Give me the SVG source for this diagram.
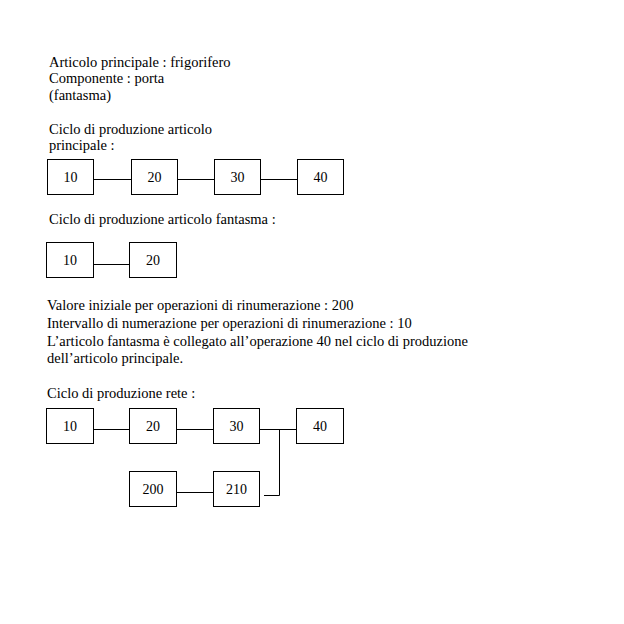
<svg xmlns="http://www.w3.org/2000/svg" width="624" height="624" viewBox="0 0 624 624">
<style>
text{font-family:"Liberation Serif","Times New Roman",serif;font-size:14.5px;fill:#000}
.n rect{fill:#fff;stroke:#000;stroke-width:1}
.n text{text-anchor:middle;font-size:14px}
#connectors line,#connectors polyline{stroke:#000;stroke-width:1;fill:none}
</style>
<rect width="624" height="624" fill="#fff"/>
<g id="texts">
<text x="49" y="66.5">Articolo principale : frigorifero</text>
<text x="49" y="83">Componente : porta</text>
<text x="49" y="99.5">(fantasma)</text>
<text x="49" y="134">Ciclo di produzione articolo</text>
<text x="49" y="150">principale :</text>
<text x="49" y="224">Ciclo di produzione articolo fantasma :</text>
<text x="47" y="310">Valore iniziale per operazioni di rinumerazione : 200</text>
<text x="47" y="328">Intervallo di numerazione per operazioni di rinumerazione : 10</text>
<text x="47" y="345.5">L’articolo fantasma è collegato all’operazione 40 nel ciclo di produzione</text>
<text x="47" y="363">dell’articolo principale.</text>
<text x="47" y="397.5">Ciclo di produzione rete :</text>
</g>
<g id="connectors">
<line x1="94" y1="179.5" x2="131.5" y2="179.5"/>
<line x1="177" y1="179.5" x2="214.5" y2="179.5"/>
<line x1="261" y1="179.5" x2="297" y2="179.5"/>
<line x1="94" y1="264.5" x2="129.5" y2="264.5"/>
<line x1="94" y1="429.5" x2="129.5" y2="429.5"/>
<line x1="177" y1="429.5" x2="213.5" y2="429.5"/>
<line x1="260" y1="429.5" x2="297" y2="429.5"/>
<line x1="177" y1="492.5" x2="213.5" y2="492.5"/>
<polyline points="264,495.5 279.5,495.5 279.5,429.5"/>
</g>
<g id="p10" class="n"><rect x="47.5" y="159.5" width="46" height="35"/><text x="70.5" y="182">10</text></g>
<g id="p20" class="n"><rect x="131.5" y="159.5" width="46" height="35"/><text x="154.5" y="182">20</text></g>
<g id="p30" class="n"><rect x="214.5" y="159.5" width="46" height="35"/><text x="237.5" y="182">30</text></g>
<g id="p40" class="n"><rect x="297.5" y="159.5" width="46" height="35"/><text x="320.5" y="182">40</text></g>
<g id="f10" class="n"><rect x="46.5" y="242.5" width="47" height="35"/><text x="70" y="265">10</text></g>
<g id="f20" class="n"><rect x="129.5" y="242.5" width="47" height="35"/><text x="153" y="265">20</text></g>
<g id="r10" class="n"><rect x="46.5" y="408.5" width="47" height="35"/><text x="70" y="431">10</text></g>
<g id="r20" class="n"><rect x="129.5" y="408.5" width="47" height="35"/><text x="153" y="431">20</text></g>
<g id="r30" class="n"><rect x="213.5" y="408.5" width="46" height="35"/><text x="236.5" y="431">30</text></g>
<g id="r40" class="n"><rect x="296.5" y="408.5" width="47" height="35"/><text x="320" y="431">40</text></g>
<g id="r200" class="n"><rect x="129.5" y="471.5" width="47" height="35"/><text x="153" y="494">200</text></g>
<g id="r210" class="n"><rect x="213.5" y="471.5" width="46" height="35"/><text x="236.5" y="494">210</text></g>
</svg>
